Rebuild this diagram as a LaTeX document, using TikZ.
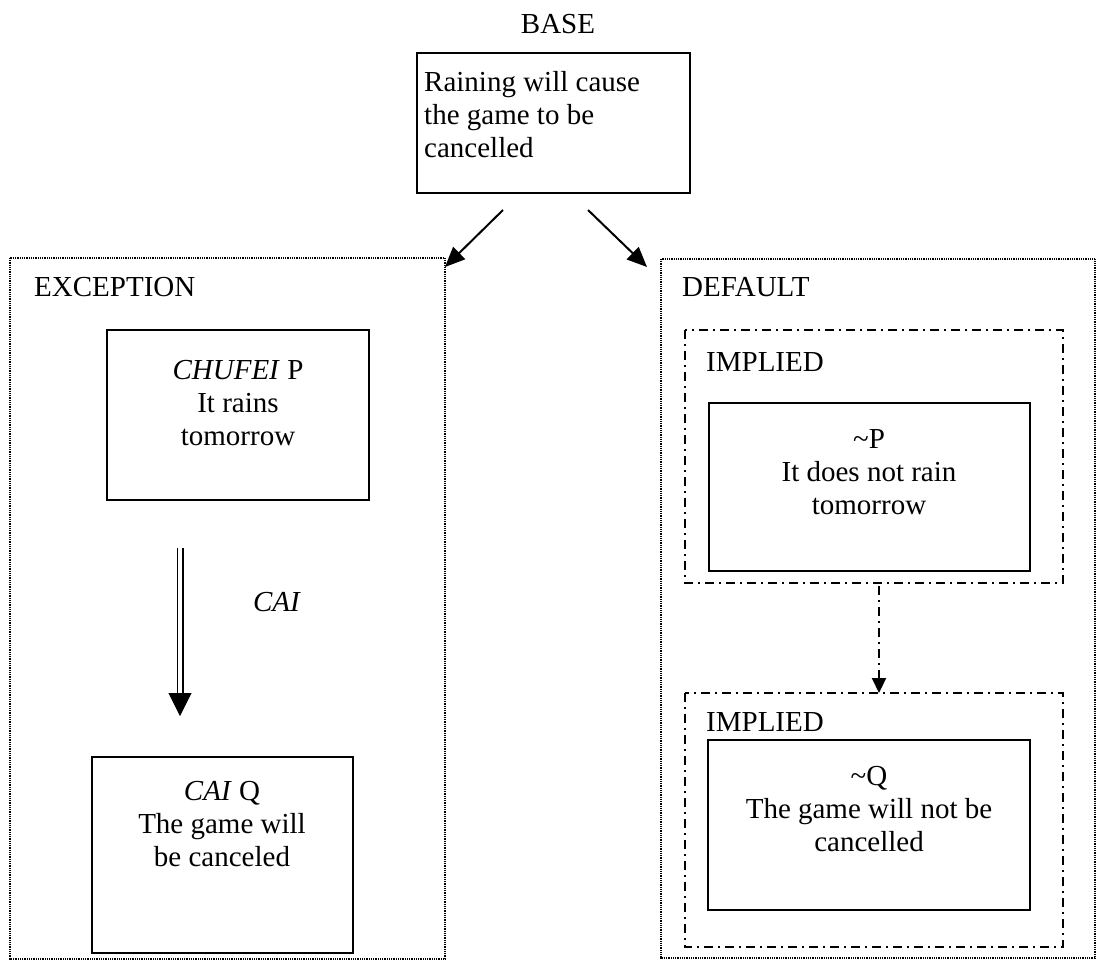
\documentclass[tikz,border=0pt]{standalone}
\usepackage{fontspec}
\setmainfont{Liberation Serif}
\usetikzlibrary{arrows.meta}
\begin{document}
\begin{tikzpicture}[x=1pt,y=-1pt,
  txt/.style={font=\fontsize{29}{33}\selectfont, inner sep=0pt, align=center},
  lbl/.style={font=\fontsize{29}{33}\selectfont, inner sep=0pt, anchor=west},
  solidbox/.style={draw, line width=2.4pt},
  dotbox/.style={draw, line width=1.6pt, dash pattern=on 1pt off 0.8pt},
  dashdotbox/.style={draw, line width=2.2pt, dash pattern=on 9pt off 5pt on 2pt off 5pt},
  tip/.style={-{Triangle[length=20pt,width=17pt]}, line width=2pt}
]
\useasboundingbox (0,0) rectangle (1097,961);

% top statement
\node[lbl, anchor=center] (baselbl) at (558,24) {BASE};
\draw[solidbox] (417,53) rectangle (690,193);
\node[txt, align=left, anchor=west] (basetxt) at (424,115)
  {Raining will cause\\the game to be\\cancelled};

% exception branch
\draw[dotbox] (10,258) rectangle (445,959);
\node[lbl] (exclbl) at (34,287) {EXCEPTION};
\draw[solidbox] (107,330) rectangle (369,500);
\node[txt] (ptxt) at (238,403) {\textit{CHUFEI} P\\It rains\\tomorrow};
\coordinate (dstart) at (180,548);
\coordinate (dmid) at (180,693);
\coordinate (dend) at (180,716);
\draw[line width=1.8pt, double, double distance=3.4pt] (dstart) -- (dmid);
\draw[-{Triangle[length=23pt,width=23pt]}, line width=1pt] (dmid) -- (dend);
\node[txt] (cailbl) at (277,602) {\textit{CAI}};
\draw[solidbox] (92,757) rectangle (353,953);
\node[txt] (qtxt) at (222,824) {\textit{CAI} Q\\The game will\\be canceled};

% default branch
\draw[dotbox] (661,259) rectangle (1095,958);
\node[lbl] (deflbl) at (682,287) {DEFAULT};
\draw[dashdotbox] (685,330) rectangle (1063,583);
\node[lbl] (imp1) at (706,362) {IMPLIED};
\draw[solidbox] (709,403) rectangle (1030,571);
\node[txt] (notp) at (869,472) {\textasciitilde P\\It does not rain\\tomorrow};
\draw[dashdotbox] (685,693) rectangle (1063,947);
\node[lbl] (imp2) at (706,722) {IMPLIED};
\draw[solidbox] (708,740) rectangle (1030,910);
\node[txt] (notq) at (869,809) {\textasciitilde Q\\The game will not be\\cancelled};

% connectors
\coordinate (l0) at (503,210);
\coordinate (l1) at (445,267);
\coordinate (r0) at (588,210);
\coordinate (r1) at (647,267);
\draw[tip] (l0) -- (l1);
\draw[tip] (r0) -- (r1);
\coordinate (i0) at (879,586);
\coordinate (i1) at (879,693);
\draw[line width=2.2pt, dash pattern=on 9pt off 5pt on 2pt off 5pt,
  -{Triangle[length=15pt,width=14pt]}] (i0) -- (i1);
\end{tikzpicture}
\end{document}
